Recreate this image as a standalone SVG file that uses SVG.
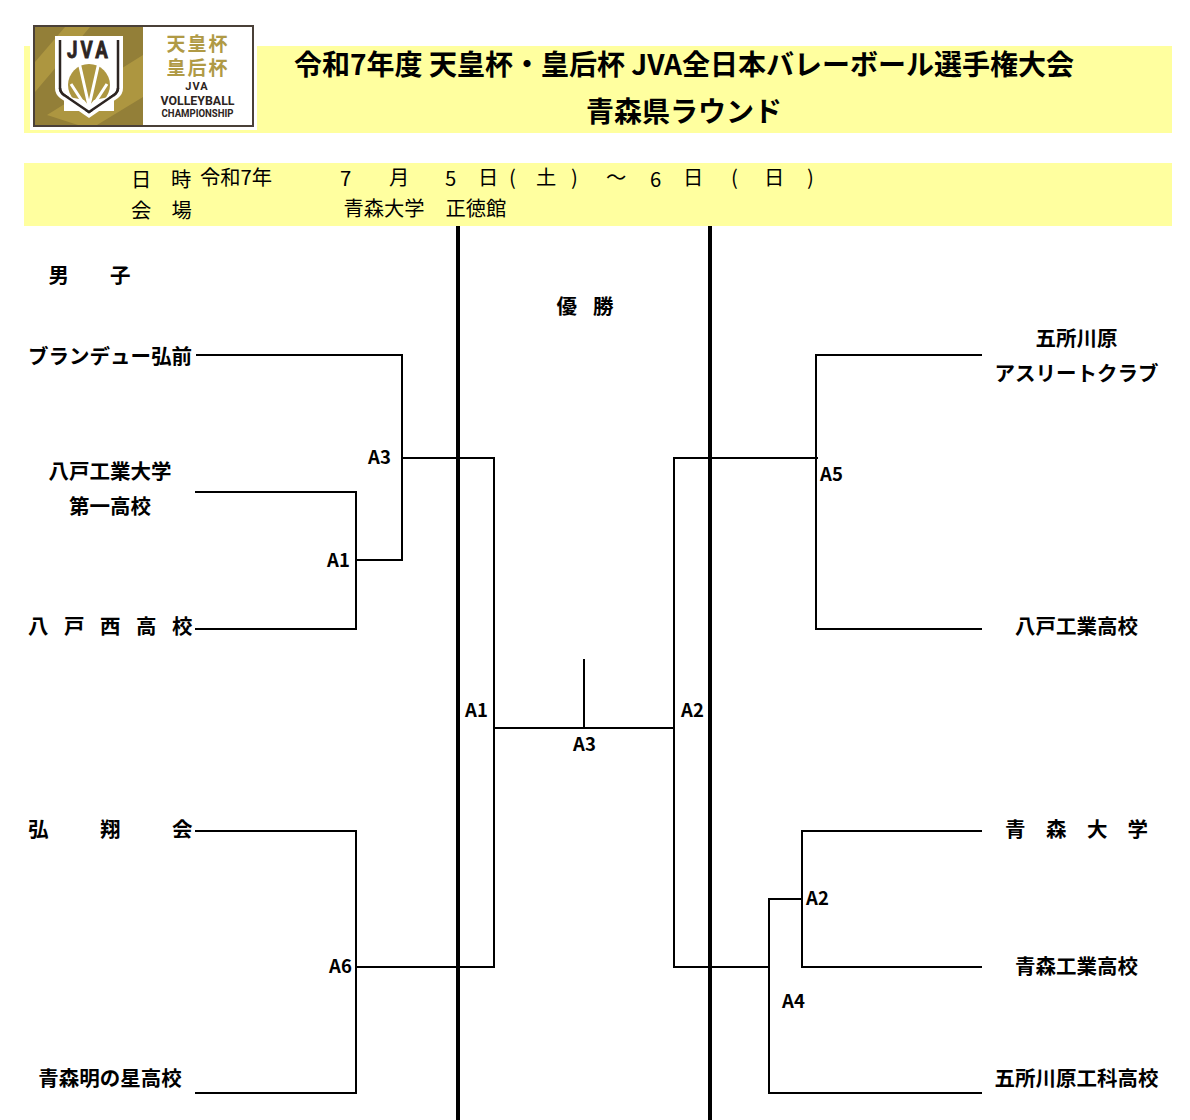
<svg xmlns="http://www.w3.org/2000/svg" width="1190" height="1120" viewBox="0 0 1190 1120">
<style>
text{font-family:"Noto Sans CJK JP","Noto Sans",sans-serif;fill:#000}
.b{font-weight:700;font-size:20.500px}
.r{font-weight:400;font-size:20.300px}
.t{font-weight:700;font-size:28px}
.m{text-anchor:middle}
.l{font-weight:700;font-size:18.500px}
.c path{fill:none;stroke:#000;stroke-width:2}
.lg{font-family:"Liberation Sans","Noto Sans CJK JP",sans-serif;fill:#b09a45;font-weight:700;font-size:19px}
.lk{fill:#2d2522;font-weight:700;text-anchor:middle;font-family:"Roboto","Liberation Sans",sans-serif}
</style>
<rect x="24" y="46" width="1148" height="87" fill="#ffff9f"/>
<rect x="24" y="163" width="1148" height="63" fill="#ffff9f"/>
<g id="logo">
<rect x="30" y="25" width="227" height="105" fill="#fff"/>
<rect x="34" y="26" width="219" height="100" fill="#fff" stroke="#4a4038" stroke-width="2"/>
<rect x="35" y="27" width="108" height="98" fill="#937f38"/>
<path d="M143 55V97L97 125H78L47 115L143 55ZM65 27H90L35 92V62Z" fill="#ad9640"/>
<path d="M55 36H123V88Q123 94 118 98L89 118L60 98Q55 94 55 88Z" fill="#fff"/>
<path d="M60 40V88Q60 92 64 95L89 112L114 95Q118 92 118 88V40" fill="none" stroke="#2d2522" stroke-width="2.500"/>
<text transform="translate(89 58) scale(.78 1)" class="lk" font-size="24" letter-spacing="4" stroke="#2d2522" stroke-width=".8">JVA</text>
<circle cx="89" cy="85" r="21" fill="#ad9640"/>
<path d="M89 106L79 62M89 106L99 62M84 104L71 84M94 104L107 84" fill="none" stroke="#fff" stroke-width="3"/>
<path d="M64 96L84 100L89 106L94 100L114 96V111H64Z" fill="#fff"/>
<path d="M60 88Q60 92 64 95L89 112L114 95Q118 92 118 88" fill="none" stroke="#2d2522" stroke-width="2.500"/>
<text x="198" y="51" class="lg m" letter-spacing="2">天皇杯</text>
<text x="198" y="75" class="lg m" letter-spacing="2">皇后杯</text>
<text x="197" y="90" class="lk" font-size="11" letter-spacing="1">JVA</text>
<text x="197.500" y="105" class="lk" font-size="13" textLength="74" lengthAdjust="spacingAndGlyphs">VOLLEYBALL</text>
<text x="197.500" y="117" class="lk" font-size="11" textLength="72" lengthAdjust="spacingAndGlyphs">CHAMPIONSHIP</text>
</g>
<g id="title">
<text x="684" y="75" class="t m">令和7年度 天皇杯・皇后杯 JVA全日本バレーボール選手権大会</text>
<text x="684" y="122" class="t m">青森県ラウンド</text>
</g>
<g id="info">
<text x="131" y="187" class="r">日</text><text x="171" y="187" class="r">時</text>
<text x="200" y="185" class="r">令和7年</text>
<text x="340" y="186" class="r">7</text><text x="389" y="185" class="r">月</text>
<text x="445" y="186" class="r">5</text><text x="478" y="185" class="r">日</text>
<text x="509" y="185" class="r">(</text><text x="536" y="185" class="r">土</text><text x="571" y="185" class="r">)</text>
<text x="606" y="185" class="r">～</text><text x="650" y="187" class="r">6</text><text x="683" y="185" class="r">日</text>
<text x="731" y="185" class="r">(</text><text x="764" y="185" class="r">日</text><text x="807" y="185" class="r">)</text>
<text x="131" y="218" class="r">会</text><text x="171.500" y="218" class="r">場</text>
<text x="343.500" y="216" class="r">青森大学</text><text x="445.500" y="216" class="r">正徳館</text>
</g>
<g id="connectors" class="c">
<path d="M458 226V1120M710 226V1120" style="stroke-width:4"/>
<path d="M196 355H402V561"/>
<path d="M195 492H356V629H195"/>
<path d="M356 560H402"/>
<path d="M402 458H494V967H356"/>
<path d="M195 831H356V1093H195"/>
<path d="M494 728H674"/>
<path d="M584 659V728"/>
<path d="M818 458H674V968"/>
<path d="M982 355H816V629H982"/>
<path d="M982 831H802V967H982"/>
<path d="M802 899H769V967"/>
<path d="M674 967H769V1093H982"/>
</g>
<g id="labels">
<text x="48.500" y="283" class="b">男</text><text x="110" y="283" class="b">子</text>
<text x="556.500" y="314" class="b">優</text><text x="593" y="314" class="b">勝</text>
</g>
<g id="team-burandeyu"><text x="28" y="364" class="b">ブランデュー弘前</text></g>
<g id="team-hachinohe-kodai"><text x="110" y="479" class="b m">八戸工業大学</text><text x="110" y="514" class="b m">第一高校</text></g>
<g id="team-hachinohe-nishi"><text x="28" y="634" class="b">八</text><text x="64" y="634" class="b">戸</text><text x="100" y="634" class="b">西</text><text x="136" y="634" class="b">高</text><text x="172" y="634" class="b">校</text></g>
<g id="team-koshokai"><text x="28" y="837" class="b">弘</text><text x="100" y="837" class="b">翔</text><text x="172" y="837" class="b">会</text></g>
<g id="team-akenohoshi"><text x="110" y="1086" class="b m">青森明の星高校</text></g>
<g id="team-goshogawara-ac"><text x="1076.500" y="346" class="b m">五所川原</text><text x="1076.500" y="381" class="b m">アスリートクラブ</text></g>
<g id="team-hachinohe-kogyo"><text x="1076.500" y="634" class="b m">八戸工業高校</text></g>
<g id="team-aomori-u"><text x="1005" y="837" class="b">青</text><text x="1046" y="837" class="b">森</text><text x="1087" y="837" class="b">大</text><text x="1127.500" y="837" class="b">学</text></g>
<g id="team-aomori-kogyo"><text x="1076.500" y="974" class="b m">青森工業高校</text></g>
<g id="team-goshogawara-kogyo"><text x="1076.500" y="1086" class="b m">五所川原工科高校</text></g>
<g id="match-labels">
<text x="379.500" y="464" class="l m">A3</text>
<text x="338.500" y="567" class="l m">A1</text>
<text x="340.500" y="973" class="l m">A6</text>
<text x="476.500" y="717" class="l m">A1</text>
<text x="692.500" y="717" class="l m">A2</text>
<text x="584.500" y="751" class="l m">A3</text>
<text x="831.500" y="481" class="l m">A5</text>
<text x="817.500" y="905" class="l m">A2</text>
<text x="793.500" y="1008" class="l m">A4</text>
</g>
</svg>
